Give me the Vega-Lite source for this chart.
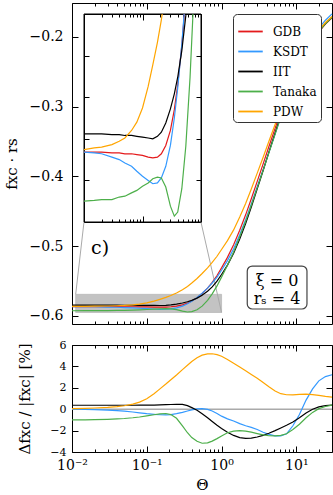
{
"$schema": "https://vega.github.io/schema/vega-lite/v6.json",
"padding": {"left": 4, "top": 2, "right": 0, "bottom": 0},
"config": {
  "view": {"stroke": null},
  "font": "DejaVu Serif",
  "axis": {"labelFont": "DejaVu Serif", "titleFont": "DejaVu Serif", "labelFontSize": 14, "titleFontSize": 15, "titleFontWeight": "normal", "labelColor": "black", "titleColor": "black", "domainColor": "black", "tickColor": "black", "domainWidth": 1, "tickWidth": 1, "grid": false, "zindex": 1, "labelFlush": false, "labelOverlap": false, "labelBound": false}
},
"datasets": {
"curves": [
{"model":"GDB","theta":0.01,"v":-0.5866},{"model":"GDB","theta":0.015,"v":-0.5866},{"model":"GDB","theta":0.02,"v":-0.5866},{"model":"GDB","theta":0.03,"v":-0.5867},{"model":"GDB","theta":0.04,"v":-0.5867},{"model":"GDB","theta":0.05,"v":-0.5868},{"model":"GDB","theta":0.065,"v":-0.5868},{"model":"GDB","theta":0.08,"v":-0.5869},{"model":"GDB","theta":0.1,"v":-0.587},{"model":"GDB","theta":0.125,"v":-0.5872},{"model":"GDB","theta":0.15,"v":-0.5873},{"model":"GDB","theta":0.18,"v":-0.5872},{"model":"GDB","theta":0.21,"v":-0.5868},{"model":"GDB","theta":0.25,"v":-0.5858},{"model":"GDB","theta":0.3,"v":-0.584},{"model":"GDB","theta":0.35,"v":-0.5815},{"model":"GDB","theta":0.4,"v":-0.5785},{"model":"GDB","theta":0.47,"v":-0.5738},{"model":"GDB","theta":0.519,"v":-0.57},{"model":"GDB","theta":0.55,"v":-0.5678},{"model":"GDB","theta":0.65,"v":-0.56},{"model":"GDB","theta":0.75,"v":-0.5518},{"model":"GDB","theta":0.87,"v":-0.542},{"model":"GDB","theta":1,"v":-0.531},{"model":"GDB","theta":1.2,"v":-0.516},{"model":"GDB","theta":1.45,"v":-0.498},{"model":"GDB","theta":1.75,"v":-0.477},{"model":"GDB","theta":2.1,"v":-0.455},{"model":"GDB","theta":2.5,"v":-0.432},{"model":"GDB","theta":3,"v":-0.407},{"model":"GDB","theta":3.6,"v":-0.382},{"model":"GDB","theta":4.3,"v":-0.357},{"model":"GDB","theta":5.2,"v":-0.331},{"model":"GDB","theta":6.2,"v":-0.307},{"model":"GDB","theta":7.4,"v":-0.284},{"model":"GDB","theta":9,"v":-0.262},{"model":"GDB","theta":11,"v":-0.242},{"model":"GDB","theta":13.5,"v":-0.2225},{"model":"GDB","theta":16.5,"v":-0.2065},{"model":"GDB","theta":20,"v":-0.1925},{"model":"GDB","theta":24.5,"v":-0.1815},{"model":"GDB","theta":30,"v":-0.1725},
{"model":"KSDT","theta":0.01,"v":-0.5866},{"model":"KSDT","theta":0.015,"v":-0.5867},{"model":"KSDT","theta":0.02,"v":-0.5868},{"model":"KSDT","theta":0.03,"v":-0.5872},{"model":"KSDT","theta":0.04,"v":-0.5875},{"model":"KSDT","theta":0.05,"v":-0.5879},{"model":"KSDT","theta":0.065,"v":-0.5883},{"model":"KSDT","theta":0.08,"v":-0.5889},{"model":"KSDT","theta":0.1,"v":-0.5895},{"model":"KSDT","theta":0.125,"v":-0.59},{"model":"KSDT","theta":0.15,"v":-0.5904},{"model":"KSDT","theta":0.18,"v":-0.5903},{"model":"KSDT","theta":0.21,"v":-0.5897},{"model":"KSDT","theta":0.25,"v":-0.5883},{"model":"KSDT","theta":0.3,"v":-0.5858},{"model":"KSDT","theta":0.35,"v":-0.5825},{"model":"KSDT","theta":0.4,"v":-0.5789},{"model":"KSDT","theta":0.47,"v":-0.5736},{"model":"KSDT","theta":0.515,"v":-0.57},{"model":"KSDT","theta":0.55,"v":-0.5675},{"model":"KSDT","theta":0.65,"v":-0.5601},{"model":"KSDT","theta":0.75,"v":-0.5527},{"model":"KSDT","theta":0.87,"v":-0.5442},{"model":"KSDT","theta":1,"v":-0.5345},{"model":"KSDT","theta":1.2,"v":-0.5206},{"model":"KSDT","theta":1.45,"v":-0.5035},{"model":"KSDT","theta":1.75,"v":-0.4834},{"model":"KSDT","theta":2.1,"v":-0.4621},{"model":"KSDT","theta":2.5,"v":-0.4393},{"model":"KSDT","theta":3,"v":-0.4147},{"model":"KSDT","theta":3.6,"v":-0.3902},{"model":"KSDT","theta":4.3,"v":-0.3654},{"model":"KSDT","theta":5.2,"v":-0.3393},{"model":"KSDT","theta":6.2,"v":-0.3147},{"model":"KSDT","theta":7.4,"v":-0.2905},{"model":"KSDT","theta":9,"v":-0.2661},{"model":"KSDT","theta":11,"v":-0.2432},{"model":"KSDT","theta":13.5,"v":-0.2206},{"model":"KSDT","theta":16.5,"v":-0.2026},{"model":"KSDT","theta":20,"v":-0.1874},{"model":"KSDT","theta":24.5,"v":-0.176},{"model":"KSDT","theta":30,"v":-0.1669},
{"model":"IIT","theta":0.01,"v":-0.5844},{"model":"IIT","theta":0.015,"v":-0.5844},{"model":"IIT","theta":0.02,"v":-0.5844},{"model":"IIT","theta":0.03,"v":-0.5845},{"model":"IIT","theta":0.04,"v":-0.5845},{"model":"IIT","theta":0.05,"v":-0.5846},{"model":"IIT","theta":0.065,"v":-0.5846},{"model":"IIT","theta":0.08,"v":-0.5847},{"model":"IIT","theta":0.1,"v":-0.5848},{"model":"IIT","theta":0.125,"v":-0.5849},{"model":"IIT","theta":0.15,"v":-0.585},{"model":"IIT","theta":0.18,"v":-0.5847},{"model":"IIT","theta":0.21,"v":-0.5842},{"model":"IIT","theta":0.25,"v":-0.5831},{"model":"IIT","theta":0.3,"v":-0.5814},{"model":"IIT","theta":0.35,"v":-0.5796},{"model":"IIT","theta":0.4,"v":-0.5776},{"model":"IIT","theta":0.47,"v":-0.5744},{"model":"IIT","theta":0.55,"v":-0.5702},{"model":"IIT","theta":0.553,"v":-0.57},{"model":"IIT","theta":0.65,"v":-0.5645},{"model":"IIT","theta":0.75,"v":-0.5582},{"model":"IIT","theta":0.87,"v":-0.5501},{"model":"IIT","theta":1,"v":-0.5406},{"model":"IIT","theta":1.2,"v":-0.5271},{"model":"IIT","theta":1.45,"v":-0.5102},{"model":"IIT","theta":1.75,"v":-0.4896},{"model":"IIT","theta":2.1,"v":-0.4674},{"model":"IIT","theta":2.5,"v":-0.4437},{"model":"IIT","theta":3,"v":-0.4176},{"model":"IIT","theta":3.6,"v":-0.3914},{"model":"IIT","theta":4.3,"v":-0.365},{"model":"IIT","theta":5.2,"v":-0.3376},{"model":"IIT","theta":6.2,"v":-0.3124},{"model":"IIT","theta":7.4,"v":-0.2883},{"model":"IIT","theta":9,"v":-0.2651},{"model":"IIT","theta":11,"v":-0.2439},{"model":"IIT","theta":13.5,"v":-0.2233},{"model":"IIT","theta":16.5,"v":-0.2065},{"model":"IIT","theta":20,"v":-0.1921},{"model":"IIT","theta":24.5,"v":-0.1809},{"model":"IIT","theta":30,"v":-0.1718},
{"model":"Tanaka","theta":0.01,"v":-0.5925},{"model":"Tanaka","theta":0.015,"v":-0.5924},{"model":"Tanaka","theta":0.02,"v":-0.5923},{"model":"Tanaka","theta":0.03,"v":-0.5923},{"model":"Tanaka","theta":0.04,"v":-0.592},{"model":"Tanaka","theta":0.05,"v":-0.5919},{"model":"Tanaka","theta":0.065,"v":-0.5915},{"model":"Tanaka","theta":0.08,"v":-0.5912},{"model":"Tanaka","theta":0.1,"v":-0.5907},{"model":"Tanaka","theta":0.125,"v":-0.5903},{"model":"Tanaka","theta":0.15,"v":-0.5898},{"model":"Tanaka","theta":0.18,"v":-0.5896},{"model":"Tanaka","theta":0.21,"v":-0.5897},{"model":"Tanaka","theta":0.25,"v":-0.5908},{"model":"Tanaka","theta":0.3,"v":-0.5931},{"model":"Tanaka","theta":0.35,"v":-0.5943},{"model":"Tanaka","theta":0.4,"v":-0.5938},{"model":"Tanaka","theta":0.47,"v":-0.591},{"model":"Tanaka","theta":0.55,"v":-0.5859},{"model":"Tanaka","theta":0.65,"v":-0.5776},{"model":"Tanaka","theta":0.729,"v":-0.57},{"model":"Tanaka","theta":0.75,"v":-0.5682},{"model":"Tanaka","theta":0.87,"v":-0.5569},{"model":"Tanaka","theta":1,"v":-0.5443},{"model":"Tanaka","theta":1.2,"v":-0.5274},{"model":"Tanaka","theta":1.45,"v":-0.5082},{"model":"Tanaka","theta":1.75,"v":-0.4865},{"model":"Tanaka","theta":2.1,"v":-0.4643},{"model":"Tanaka","theta":2.5,"v":-0.4413},{"model":"Tanaka","theta":3,"v":-0.4163},{"model":"Tanaka","theta":3.6,"v":-0.3912},{"model":"Tanaka","theta":4.3,"v":-0.3659},{"model":"Tanaka","theta":5.2,"v":-0.3393},{"model":"Tanaka","theta":6.2,"v":-0.3145},{"model":"Tanaka","theta":7.4,"v":-0.2905},{"model":"Tanaka","theta":9,"v":-0.267},{"model":"Tanaka","theta":11,"v":-0.2454},{"model":"Tanaka","theta":13.5,"v":-0.2243},{"model":"Tanaka","theta":16.5,"v":-0.2071},{"model":"Tanaka","theta":20,"v":-0.1924},{"model":"Tanaka","theta":24.5,"v":-0.181},{"model":"Tanaka","theta":30,"v":-0.1718},
{"model":"PDW","theta":0.01,"v":-0.5863},{"model":"PDW","theta":0.015,"v":-0.5861},{"model":"PDW","theta":0.02,"v":-0.586},{"model":"PDW","theta":0.03,"v":-0.5857},{"model":"PDW","theta":0.04,"v":-0.5853},{"model":"PDW","theta":0.05,"v":-0.5849},{"model":"PDW","theta":0.065,"v":-0.584},{"model":"PDW","theta":0.08,"v":-0.583},{"model":"PDW","theta":0.1,"v":-0.5813},{"model":"PDW","theta":0.125,"v":-0.5787},{"model":"PDW","theta":0.15,"v":-0.5761},{"model":"PDW","theta":0.18,"v":-0.5734},{"model":"PDW","theta":0.21,"v":-0.5707},{"model":"PDW","theta":0.217,"v":-0.57},{"model":"PDW","theta":0.25,"v":-0.5671},{"model":"PDW","theta":0.3,"v":-0.5624},{"model":"PDW","theta":0.35,"v":-0.5577},{"model":"PDW","theta":0.4,"v":-0.5528},{"model":"PDW","theta":0.47,"v":-0.5463},{"model":"PDW","theta":0.55,"v":-0.5391},{"model":"PDW","theta":0.65,"v":-0.5311},{"model":"PDW","theta":0.75,"v":-0.5232},{"model":"PDW","theta":0.87,"v":-0.5144},{"model":"PDW","theta":1,"v":-0.5047},{"model":"PDW","theta":1.2,"v":-0.492},{"model":"PDW","theta":1.45,"v":-0.4766},{"model":"PDW","theta":1.75,"v":-0.4582},{"model":"PDW","theta":2.1,"v":-0.4386},{"model":"PDW","theta":2.5,"v":-0.418},{"model":"PDW","theta":3,"v":-0.3952},{"model":"PDW","theta":3.6,"v":-0.3725},{"model":"PDW","theta":4.3,"v":-0.3495},{"model":"PDW","theta":5.2,"v":-0.3254},{"model":"PDW","theta":6.2,"v":-0.3026},{"model":"PDW","theta":7.4,"v":-0.2802},{"model":"PDW","theta":9,"v":-0.2585},{"model":"PDW","theta":11,"v":-0.2387},{"model":"PDW","theta":13.5,"v":-0.2194},{"model":"PDW","theta":16.5,"v":-0.2037},{"model":"PDW","theta":20,"v":-0.19},{"model":"PDW","theta":24.5,"v":-0.1793},{"model":"PDW","theta":30,"v":-0.1706}
],
"delta": [
{"model":"KSDT","theta":0.01,"d":0},{"model":"KSDT","theta":0.015,"d":-0.02},{"model":"KSDT","theta":0.02,"d":-0.04},{"model":"KSDT","theta":0.03,"d":-0.08},{"model":"KSDT","theta":0.04,"d":-0.13},{"model":"KSDT","theta":0.05,"d":-0.18},{"model":"KSDT","theta":0.065,"d":-0.26},{"model":"KSDT","theta":0.08,"d":-0.34},{"model":"KSDT","theta":0.1,"d":-0.42},{"model":"KSDT","theta":0.125,"d":-0.48},{"model":"KSDT","theta":0.15,"d":-0.52},{"model":"KSDT","theta":0.18,"d":-0.53},{"model":"KSDT","theta":0.21,"d":-0.5},{"model":"KSDT","theta":0.25,"d":-0.42},{"model":"KSDT","theta":0.3,"d":-0.3},{"model":"KSDT","theta":0.35,"d":-0.17},{"model":"KSDT","theta":0.4,"d":-0.06},{"model":"KSDT","theta":0.47,"d":0.03},{"model":"KSDT","theta":0.55,"d":0.05},{"model":"KSDT","theta":0.65,"d":-0.02},{"model":"KSDT","theta":0.75,"d":-0.17},{"model":"KSDT","theta":0.87,"d":-0.4},{"model":"KSDT","theta":1,"d":-0.65},{"model":"KSDT","theta":1.2,"d":-0.9},{"model":"KSDT","theta":1.45,"d":-1.1},{"model":"KSDT","theta":1.75,"d":-1.35},{"model":"KSDT","theta":2.1,"d":-1.55},{"model":"KSDT","theta":2.5,"d":-1.7},{"model":"KSDT","theta":3,"d":-1.9},{"model":"KSDT","theta":3.6,"d":-2.15},{"model":"KSDT","theta":4.3,"d":-2.35},{"model":"KSDT","theta":5.2,"d":-2.5},{"model":"KSDT","theta":6.2,"d":-2.5},{"model":"KSDT","theta":7.4,"d":-2.3},{"model":"KSDT","theta":9,"d":-1.55},{"model":"KSDT","theta":11,"d":-0.5},{"model":"KSDT","theta":13.5,"d":0.85},{"model":"KSDT","theta":16.5,"d":1.9},{"model":"KSDT","theta":20,"d":2.65},{"model":"KSDT","theta":24.5,"d":3.05},{"model":"KSDT","theta":30,"d":3.22},
{"model":"IIT","theta":0.01,"d":0.37},{"model":"IIT","theta":0.015,"d":0.37},{"model":"IIT","theta":0.02,"d":0.37},{"model":"IIT","theta":0.03,"d":0.37},{"model":"IIT","theta":0.04,"d":0.37},{"model":"IIT","theta":0.05,"d":0.37},{"model":"IIT","theta":0.065,"d":0.37},{"model":"IIT","theta":0.08,"d":0.38},{"model":"IIT","theta":0.1,"d":0.38},{"model":"IIT","theta":0.125,"d":0.39},{"model":"IIT","theta":0.15,"d":0.4},{"model":"IIT","theta":0.18,"d":0.42},{"model":"IIT","theta":0.21,"d":0.44},{"model":"IIT","theta":0.25,"d":0.46},{"model":"IIT","theta":0.3,"d":0.45},{"model":"IIT","theta":0.35,"d":0.33},{"model":"IIT","theta":0.4,"d":0.15},{"model":"IIT","theta":0.47,"d":-0.1},{"model":"IIT","theta":0.55,"d":-0.42},{"model":"IIT","theta":0.65,"d":-0.8},{"model":"IIT","theta":0.75,"d":-1.15},{"model":"IIT","theta":0.87,"d":-1.5},{"model":"IIT","theta":1,"d":-1.8},{"model":"IIT","theta":1.2,"d":-2.15},{"model":"IIT","theta":1.45,"d":-2.45},{"model":"IIT","theta":1.75,"d":-2.65},{"model":"IIT","theta":2.1,"d":-2.72},{"model":"IIT","theta":2.5,"d":-2.7},{"model":"IIT","theta":3,"d":-2.6},{"model":"IIT","theta":3.6,"d":-2.45},{"model":"IIT","theta":4.3,"d":-2.25},{"model":"IIT","theta":5.2,"d":-2},{"model":"IIT","theta":6.2,"d":-1.75},{"model":"IIT","theta":7.4,"d":-1.5},{"model":"IIT","theta":9,"d":-1.2},{"model":"IIT","theta":11,"d":-0.8},{"model":"IIT","theta":13.5,"d":-0.35},{"model":"IIT","theta":16.5,"d":0},{"model":"IIT","theta":20,"d":0.22},{"model":"IIT","theta":24.5,"d":0.33},{"model":"IIT","theta":30,"d":0.38},
{"model":"Tanaka","theta":0.01,"d":-1},{"model":"Tanaka","theta":0.015,"d":-0.99},{"model":"Tanaka","theta":0.02,"d":-0.98},{"model":"Tanaka","theta":0.03,"d":-0.95},{"model":"Tanaka","theta":0.04,"d":-0.91},{"model":"Tanaka","theta":0.05,"d":-0.87},{"model":"Tanaka","theta":0.065,"d":-0.8},{"model":"Tanaka","theta":0.08,"d":-0.73},{"model":"Tanaka","theta":0.1,"d":-0.63},{"model":"Tanaka","theta":0.125,"d":-0.52},{"model":"Tanaka","theta":0.15,"d":-0.43},{"model":"Tanaka","theta":0.18,"d":-0.4},{"model":"Tanaka","theta":0.21,"d":-0.5},{"model":"Tanaka","theta":0.25,"d":-0.85},{"model":"Tanaka","theta":0.3,"d":-1.55},{"model":"Tanaka","theta":0.35,"d":-2.2},{"model":"Tanaka","theta":0.4,"d":-2.65},{"model":"Tanaka","theta":0.47,"d":-3},{"model":"Tanaka","theta":0.55,"d":-3.18},{"model":"Tanaka","theta":0.65,"d":-3.15},{"model":"Tanaka","theta":0.75,"d":-2.98},{"model":"Tanaka","theta":0.87,"d":-2.75},{"model":"Tanaka","theta":1,"d":-2.5},{"model":"Tanaka","theta":1.2,"d":-2.2},{"model":"Tanaka","theta":1.45,"d":-2.05},{"model":"Tanaka","theta":1.75,"d":-2},{"model":"Tanaka","theta":2.1,"d":-2.05},{"model":"Tanaka","theta":2.5,"d":-2.15},{"model":"Tanaka","theta":3,"d":-2.28},{"model":"Tanaka","theta":3.6,"d":-2.4},{"model":"Tanaka","theta":4.3,"d":-2.48},{"model":"Tanaka","theta":5.2,"d":-2.5},{"model":"Tanaka","theta":6.2,"d":-2.45},{"model":"Tanaka","theta":7.4,"d":-2.3},{"model":"Tanaka","theta":9,"d":-1.9},{"model":"Tanaka","theta":11,"d":-1.4},{"model":"Tanaka","theta":13.5,"d":-0.8},{"model":"Tanaka","theta":16.5,"d":-0.3},{"model":"Tanaka","theta":20,"d":0.05},{"model":"Tanaka","theta":24.5,"d":0.25},{"model":"Tanaka","theta":30,"d":0.38},
{"model":"PDW","theta":0.01,"d":0.05},{"model":"PDW","theta":0.015,"d":0.08},{"model":"PDW","theta":0.02,"d":0.11},{"model":"PDW","theta":0.03,"d":0.17},{"model":"PDW","theta":0.04,"d":0.24},{"model":"PDW","theta":0.05,"d":0.32},{"model":"PDW","theta":0.065,"d":0.47},{"model":"PDW","theta":0.08,"d":0.66},{"model":"PDW","theta":0.1,"d":0.98},{"model":"PDW","theta":0.125,"d":1.45},{"model":"PDW","theta":0.15,"d":1.9},{"model":"PDW","theta":0.18,"d":2.35},{"model":"PDW","theta":0.21,"d":2.75},{"model":"PDW","theta":0.25,"d":3.2},{"model":"PDW","theta":0.3,"d":3.7},{"model":"PDW","theta":0.35,"d":4.1},{"model":"PDW","theta":0.4,"d":4.45},{"model":"PDW","theta":0.47,"d":4.8},{"model":"PDW","theta":0.55,"d":5.05},{"model":"PDW","theta":0.65,"d":5.17},{"model":"PDW","theta":0.75,"d":5.18},{"model":"PDW","theta":0.87,"d":5.1},{"model":"PDW","theta":1,"d":4.95},{"model":"PDW","theta":1.2,"d":4.65},{"model":"PDW","theta":1.45,"d":4.3},{"model":"PDW","theta":1.75,"d":3.95},{"model":"PDW","theta":2.1,"d":3.6},{"model":"PDW","theta":2.5,"d":3.25},{"model":"PDW","theta":3,"d":2.9},{"model":"PDW","theta":3.6,"d":2.5},{"model":"PDW","theta":4.3,"d":2.1},{"model":"PDW","theta":5.2,"d":1.7},{"model":"PDW","theta":6.2,"d":1.45},{"model":"PDW","theta":7.4,"d":1.35},{"model":"PDW","theta":9,"d":1.33},{"model":"PDW","theta":11,"d":1.38},{"model":"PDW","theta":13.5,"d":1.4},{"model":"PDW","theta":16.5,"d":1.37},{"model":"PDW","theta":20,"d":1.3},{"model":"PDW","theta":24.5,"d":1.2},{"model":"PDW","theta":30,"d":1.12}
]
},
"resolve": {"scale": {"color": "independent"}},
"spacing": 14,
"vconcat": [
{
  "width": 260, "height": 321,
  "resolve": {"scale": {"x": "independent", "y": "independent", "color": "shared"}, "axis": {"x": "independent", "y": "independent"}},
  "layer": [
    {
      "data": {"values": [{"x1": 0.0112, "x2": 1.0, "y1": -0.595, "y2": -0.569}]},
      "mark": {"type": "rect", "fill": "#888888", "opacity": 0.5, "stroke": "#777777", "strokeWidth": 0.8},
      "encoding": {
        "x": {"field": "x1", "type": "quantitative", "scale": {"type": "log", "domain": [0.01, 30], "nice": false},
              "axis": {"orient": "top", "labels": false, "title": null, "values": [0.01,0.02,0.03,0.04,0.05,0.06,0.07,0.08,0.09,0.1,0.2,0.3,0.4,0.5,0.6,0.7,0.8,0.9,1,2,3,4,5,6,7,8,9,10,20],
                       "tickSize": {"condition": {"test": "datum.value==0.01||datum.value==0.1||datum.value==1||datum.value==10", "value": -6}, "value": -3}}},
        "x2": {"field": "x2"},
        "y": {"field": "y1", "type": "quantitative", "scale": {"domain": [-0.6115, -0.1513], "nice": false, "zero": false},
              "axis": {"orient": "right", "labels": false, "title": null, "values": [-0.6, -0.5, -0.4, -0.3, -0.2], "tickSize": -6}},
        "y2": {"field": "y2"}
      }
    },
    {
      "data": {"values": [{"xa": 0.0112, "ya": -0.569, "xb": 0.01447, "yb": -0.4653}, {"xa": 1.0, "ya": -0.595, "xb": 0.5303, "yb": -0.4653}]},
      "mark": {"type": "rule", "color": "#aaaaaa", "strokeWidth": 1},
      "encoding": {
        "x": {"field": "xa", "type": "quantitative", "scale": {"type": "log", "domain": [0.01, 30], "nice": false}, "axis": null},
        "x2": {"field": "xb"},
        "y": {"field": "ya", "type": "quantitative", "scale": {"domain": [-0.6115, -0.1513], "nice": false, "zero": false}, "axis": null},
        "y2": {"field": "yb"}
      }
    },
    {
      "data": {"name": "curves"},
      "mark": {"type": "line", "strokeWidth": 1.2},
      "encoding": {
        "x": {"field": "theta", "type": "quantitative", "scale": {"type": "log", "domain": [0.01, 30], "nice": false},
              "axis": {"orient": "bottom", "labels": false, "title": null, "values": [0.01,0.02,0.03,0.04,0.05,0.06,0.07,0.08,0.09,0.1,0.2,0.3,0.4,0.5,0.6,0.7,0.8,0.9,1,2,3,4,5,6,7,8,9,10,20],
                       "tickSize": {"condition": {"test": "datum.value==0.01||datum.value==0.1||datum.value==1||datum.value==10", "value": -6}, "value": -3}}},
        "y": {"field": "v", "type": "quantitative", "scale": {"domain": [-0.6115, -0.1513], "nice": false, "zero": false},
              "axis": {"orient": "left", "values": [-0.6, -0.5, -0.4, -0.3, -0.2], "format": ".1f", "tickSize": -6, "labelPadding": 15, "title": "fxc · rs", "titlePadding": 10}},
        "color": {"field": "model", "type": "nominal",
                  "scale": {"domain": ["GDB", "KSDT", "IIT", "Tanaka", "PDW"], "range": ["#e41a1c", "#3399ff", "#000000", "#4daf4a", "#ffa500"]},
                  "legend": {"title": null, "orient": "top-right", "offset": 11, "symbolType": "stroke", "symbolSize": 600, "symbolStrokeWidth": 1.8, "labelFont": "DejaVu Serif", "labelFontSize": 12, "labelColor": "black", "labelOffset": 9, "padding": 4, "rowPadding": -1, "strokeColor": "#333333", "fillColor": "white", "cornerRadius": 4}}
      }
    },
    {
      "data": {"values": [{"x1": 2.207, "x2": 13.88, "y1": -0.5284, "y2": -0.59}]},
      "mark": {"type": "rect", "fill": "white", "stroke": "#444444", "strokeWidth": 1.2, "cornerRadius": 5},
      "encoding": {
        "x": {"field": "x1", "type": "quantitative", "scale": {"type": "log", "domain": [0.01, 30], "nice": false}, "axis": null},
        "x2": {"field": "x2"},
        "y": {"field": "y1", "type": "quantitative", "scale": {"domain": [-0.6115, -0.1513], "nice": false, "zero": false}, "axis": null},
        "y2": {"field": "y2"}
      }
    },
    {
      "data": {"values": [{"tx": 5.53, "ty": -0.557, "label": "ξ = 0", "size": 16}, {"tx": 5.53, "ty": -0.5828, "label": "rₛ = 4", "size": 16}, {"tx": 0.0237, "ty": -0.5112, "label": "c)", "size": 19}]},
      "mark": {"type": "text", "font": "DejaVu Serif", "baseline": "alphabetic", "align": "center", "color": "black"},
      "encoding": {
        "x": {"field": "tx", "type": "quantitative", "scale": {"type": "log", "domain": [0.01, 30], "nice": false}, "axis": null},
        "y": {"field": "ty", "type": "quantitative", "scale": {"domain": [-0.6115, -0.1513], "nice": false, "zero": false}, "axis": null},
        "text": {"field": "label"},
        "size": {"field": "size", "type": "quantitative", "scale": null}
      }
    },
    {
      "data": {"values": [{"x1": 0.01, "x2": 1.0, "y1": -0.595, "y2": -0.57}]},
      "mark": {"type": "rect", "fill": "white", "fillOpacity": 0, "stroke": "black", "strokeWidth": 1},
      "encoding": {
        "x": {"field": "x1", "type": "quantitative", "scale": {"type": "log", "domain": [0.01, 1], "range": [12, 129], "nice": false},
              "axis": {"orient": "bottom", "offset": -102, "labels": false, "title": null, "values": [0.01,0.02,0.03,0.04,0.05,0.06,0.07,0.08,0.09,0.1,0.2,0.3,0.4,0.5,0.6,0.7,0.8,0.9,1],
                       "tickSize": {"condition": {"test": "datum.value==0.1", "value": -6}, "value": -3}}},
        "x2": {"field": "x2"},
        "y": {"field": "y1", "type": "quantitative", "scale": {"domain": [-0.595, -0.57], "range": [219, 11], "nice": false, "zero": false},
              "axis": {"orient": "left", "offset": -12, "labels": false, "title": null, "values": [-0.59, -0.585, -0.58, -0.575], "tickSize": -5}},
        "y2": {"field": "y2"}
      }
    },
    {
      "data": {"name": "curves"},
      "transform": [{"filter": "datum.theta <= 1 && datum.v <= -0.56999"}],
      "mark": {"type": "line", "strokeWidth": 1.2},
      "encoding": {
        "x": {"field": "theta", "type": "quantitative", "scale": {"type": "log", "domain": [0.01, 1], "range": [12, 129], "nice": false},
              "axis": {"orient": "top", "offset": -11, "labels": false, "title": null, "values": [0.01,0.02,0.03,0.04,0.05,0.06,0.07,0.08,0.09,0.1,0.2,0.3,0.4,0.5,0.6,0.7,0.8,0.9,1],
                       "tickSize": {"condition": {"test": "datum.value==0.1", "value": -6}, "value": -3}}},
        "y": {"field": "v", "type": "quantitative", "scale": {"domain": [-0.595, -0.57], "range": [219, 11], "nice": false, "zero": false},
              "axis": {"orient": "right", "offset": -131, "labels": false, "title": null, "values": [-0.59, -0.585, -0.58, -0.575], "tickSize": -5}},
        "color": {"field": "model", "type": "nominal", "scale": {"domain": ["GDB", "KSDT", "IIT", "Tanaka", "PDW"], "range": ["#e41a1c", "#3399ff", "#000000", "#4daf4a", "#ffa500"]}}
      }
    }
  ]
},
{
  "width": 260, "height": 107,
  "resolve": {"axis": {"x": "independent", "y": "independent"}},
  "layer": [
    {
      "data": {"values": [{"x1": 0.01, "x2": 30, "y": 0}]},
      "mark": {"type": "rule", "color": "#aaaaaa", "strokeWidth": 1.5},
      "encoding": {
        "x": {"field": "x1", "type": "quantitative", "scale": {"type": "log", "domain": [0.01, 30], "nice": false},
              "axis": {"orient": "top", "labels": false, "title": null, "values": [0.01,0.02,0.03,0.04,0.05,0.06,0.07,0.08,0.09,0.1,0.2,0.3,0.4,0.5,0.6,0.7,0.8,0.9,1,2,3,4,5,6,7,8,9,10,20],
                       "tickSize": {"condition": {"test": "datum.value==0.01||datum.value==0.1||datum.value==1||datum.value==10", "value": -6}, "value": -3}}},
        "x2": {"field": "x2"},
        "y": {"field": "y", "type": "quantitative", "scale": {"domain": [-4, 6], "nice": false, "zero": false},
              "axis": {"orient": "right", "labels": false, "title": null, "values": [-4, -2, 0, 2, 4, 6], "tickSize": -6}}
      }
    },
    {
      "data": {"name": "delta"},
      "mark": {"type": "line", "strokeWidth": 1.2},
      "encoding": {
        "x": {"field": "theta", "type": "quantitative", "scale": {"type": "log", "domain": [0.01, 30], "nice": false},
              "axis": {"orient": "bottom", "title": "Θ", "titlePadding": 2, "labelPadding": 12, "values": [0.01,0.02,0.03,0.04,0.05,0.06,0.07,0.08,0.09,0.1,0.2,0.3,0.4,0.5,0.6,0.7,0.8,0.9,1,2,3,4,5,6,7,8,9,10,20],
                       "labelExpr": "datum.value==0.01 ? '10⁻²' : datum.value==0.1 ? '10⁻¹' : datum.value==1 ? '10⁰' : datum.value==10 ? '10¹' : ''",
                       "tickSize": {"condition": {"test": "datum.value==0.01||datum.value==0.1||datum.value==1||datum.value==10", "value": -6}, "value": -3}}},
        "y": {"field": "d", "type": "quantitative", "scale": {"domain": [-4, 6], "nice": false, "zero": false},
              "axis": {"orient": "left", "values": [-4, -2, 0, 2, 4, 6], "format": "d", "tickSize": -6, "labelPadding": 12, "labelFontSize": 11, "title": "Δfxc / |fxc| [%]", "titlePadding": 17}},
        "color": {"field": "model", "type": "nominal", "scale": {"domain": ["GDB", "KSDT", "IIT", "Tanaka", "PDW"], "range": ["#e41a1c", "#3399ff", "#000000", "#4daf4a", "#ffa500"]}, "legend": null}
      }
    }
  ]
}
]
}
